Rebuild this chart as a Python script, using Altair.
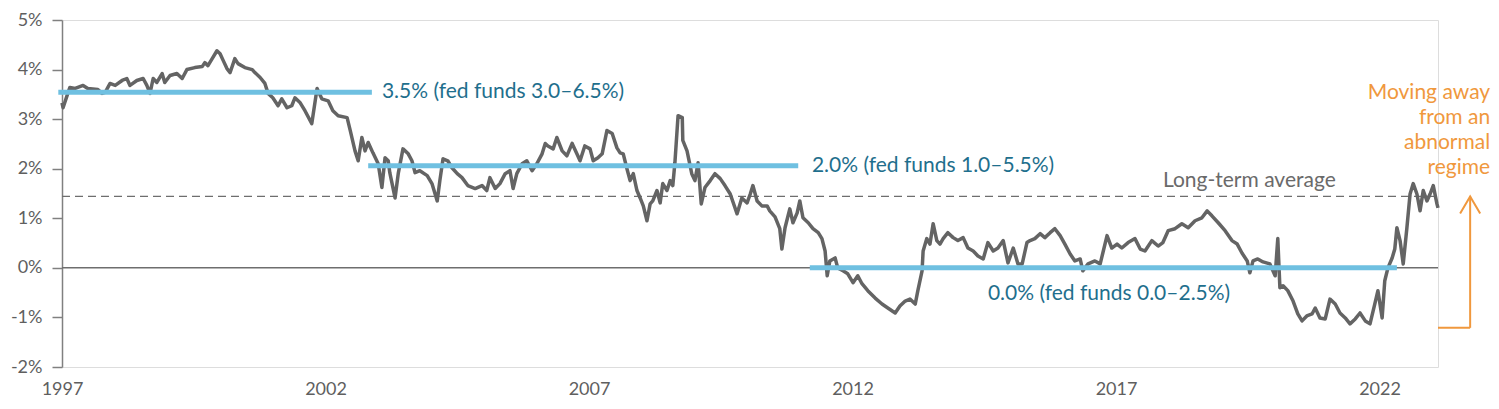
import altair as alt
import pandas as pd

# ---- 10-year real yield series (decimal year, %) ----
year = [
    1997.00, 1997.02, 1997.11, 1997.15, 1997.25, 1997.40, 1997.49, 1997.68, 1997.76, 1997.82,
    1997.91, 1998.01, 1998.14, 1998.23, 1998.29, 1998.42, 1998.54, 1998.61, 1998.67, 1998.73,
    1998.80, 1998.90, 1998.95, 1999.05, 1999.18, 1999.28, 1999.37, 1999.52, 1999.66, 1999.71,
    1999.77, 1999.85, 1999.94, 2000.00, 2000.06, 2000.13, 2000.19, 2000.28, 2000.34, 2000.47,
    2000.61, 2000.66, 2000.76, 2000.85, 2000.91, 2001.00, 2001.10, 2001.17, 2001.27, 2001.36,
    2001.42, 2001.52, 2001.61, 2001.74, 2001.84, 2001.93, 2002.05, 2002.14, 2002.24, 2002.41,
    2002.47, 2002.56, 2002.62, 2002.69, 2002.75, 2002.81, 2002.90, 2003.00, 2003.07, 2003.13,
    2003.19, 2003.22, 2003.32, 2003.38, 2003.47, 2003.57, 2003.64, 2003.70, 2003.79, 2003.93,
    2004.02, 2004.12, 2004.17, 2004.23, 2004.32, 2004.40, 2004.50, 2004.59, 2004.70, 2004.84,
    2004.97, 2005.06, 2005.12, 2005.22, 2005.31, 2005.41, 2005.50, 2005.56, 2005.63, 2005.73,
    2005.82, 2005.92, 2006.01, 2006.11, 2006.17, 2006.22, 2006.32, 2006.39, 2006.49, 2006.58,
    2006.68, 2006.77, 2006.83, 2006.92, 2007.02, 2007.08, 2007.17, 2007.25, 2007.34, 2007.44,
    2007.53, 2007.59, 2007.65, 2007.72, 2007.78, 2007.84, 2007.91, 2007.97, 2008.03, 2008.10,
    2008.16, 2008.21, 2008.29, 2008.35, 2008.40, 2008.48, 2008.54, 2008.59, 2008.63, 2008.69,
    2008.77, 2008.78, 2008.86, 2008.95, 2009.01, 2009.07, 2009.13, 2009.20, 2009.30, 2009.39,
    2009.49, 2009.58, 2009.68, 2009.81, 2009.90, 2010.00, 2010.06, 2010.11, 2010.19, 2010.28,
    2010.38, 2010.43, 2010.53, 2010.62, 2010.66, 2010.72, 2010.81, 2010.87, 2010.95, 2011.00,
    2011.06, 2011.16, 2011.25, 2011.35, 2011.42, 2011.48, 2011.52, 2011.57, 2011.67, 2011.72,
    2011.82, 2011.91, 2012.01, 2012.10, 2012.18, 2012.29, 2012.43, 2012.56, 2012.67, 2012.81,
    2012.90, 2013.00, 2013.09, 2013.19, 2013.24, 2013.32, 2013.34, 2013.41, 2013.47, 2013.53,
    2013.60, 2013.66, 2013.72, 2013.81, 2013.91, 2014.00, 2014.10, 2014.19, 2014.29, 2014.38,
    2014.48, 2014.57, 2014.67, 2014.76, 2014.86, 2014.95, 2015.05, 2015.14, 2015.22, 2015.31,
    2015.37, 2015.46, 2015.56, 2015.65, 2015.75, 2015.84, 2015.94, 2016.03, 2016.13, 2016.22,
    2016.32, 2016.37, 2016.47, 2016.60, 2016.70, 2016.75, 2016.83, 2016.92, 2017.02, 2017.11,
    2017.23, 2017.36, 2017.46, 2017.55, 2017.68, 2017.80, 2017.89, 2017.99, 2018.12, 2018.25,
    2018.37, 2018.50, 2018.63, 2018.73, 2018.82, 2018.94, 2019.07, 2019.20, 2019.30, 2019.39,
    2019.49, 2019.54, 2019.60, 2019.69, 2019.79, 2019.92, 2020.02, 2020.07, 2020.11, 2020.17,
    2020.26, 2020.36, 2020.45, 2020.53, 2020.62, 2020.72, 2020.78, 2020.87, 2020.97, 2021.06,
    2021.16, 2021.25, 2021.35, 2021.44, 2021.54, 2021.63, 2021.73, 2021.82, 2021.91, 2021.97,
    2022.05, 2022.10, 2022.16, 2022.24, 2022.29, 2022.33, 2022.39, 2022.45, 2022.52, 2022.58,
    2022.64, 2022.71, 2022.77, 2022.83, 2022.90, 2022.96, 2023.02, 2023.09, 2023.11,
]
real_yield = [
    3.33, 3.23, 3.52, 3.64, 3.62, 3.68, 3.62, 3.60, 3.52, 3.54,
    3.72, 3.68, 3.78, 3.82, 3.68, 3.78, 3.82, 3.68, 3.52, 3.82,
    3.74, 3.92, 3.74, 3.88, 3.92, 3.82, 4.00, 4.04, 4.06, 4.14,
    4.08, 4.22, 4.38, 4.32, 4.18, 4.02, 3.94, 4.22, 4.12, 4.04,
    4.00, 3.94, 3.84, 3.72, 3.52, 3.43, 3.27, 3.41, 3.23, 3.27,
    3.43, 3.33, 3.17, 2.91, 3.62, 3.41, 3.37, 3.17, 3.07, 3.03,
    2.77, 2.36, 2.16, 2.63, 2.36, 2.53, 2.32, 2.10, 1.62, 2.22,
    2.16, 1.92, 1.41, 1.90, 2.40, 2.30, 2.16, 1.92, 1.96, 1.86,
    1.70, 1.35, 1.76, 2.20, 2.16, 2.02, 1.90, 1.82, 1.66, 1.60,
    1.66, 1.56, 1.82, 1.60, 1.70, 1.90, 1.96, 1.60, 1.90, 2.10,
    2.16, 1.96, 2.10, 2.30, 2.51, 2.46, 2.40, 2.63, 2.36, 2.26,
    2.51, 2.30, 2.16, 2.46, 2.40, 2.16, 2.22, 2.30, 2.77, 2.71,
    2.42, 2.32, 2.30, 2.00, 1.76, 1.90, 1.56, 1.41, 1.25, 0.95,
    1.29, 1.35, 1.56, 1.31, 1.70, 1.56, 1.76, 1.66, 2.12, 3.07,
    3.03, 2.57, 2.36, 1.90, 1.76, 2.12, 1.29, 1.62, 1.76, 1.90,
    1.80, 1.66, 1.49, 1.09, 1.41, 1.31, 1.49, 1.66, 1.35, 1.25,
    1.25, 1.15, 1.03, 0.79, 0.38, 0.81, 1.19, 0.91, 1.11, 1.35,
    1.01, 0.91, 0.79, 0.71, 0.59, 0.34, -0.16, 0.14, 0.20, 0.00,
    -0.06, -0.12, -0.30, -0.16, -0.32, -0.46, -0.61, -0.73, -0.81, -0.91,
    -0.77, -0.67, -0.63, -0.73, -0.46, -0.06, 0.34, 0.59, 0.48, 0.89,
    0.55, 0.48, 0.59, 0.71, 0.61, 0.55, 0.61, 0.40, 0.34, 0.24,
    0.18, 0.51, 0.34, 0.40, 0.55, 0.10, 0.40, 0.08, 0.08, 0.51,
    0.55, 0.59, 0.69, 0.61, 0.71, 0.79, 0.65, 0.48, 0.28, 0.14,
    0.18, -0.06, 0.08, 0.14, 0.08, 0.30, 0.65, 0.40, 0.48, 0.40,
    0.51, 0.59, 0.38, 0.34, 0.55, 0.44, 0.51, 0.75, 0.79, 0.89,
    0.81, 0.95, 1.01, 1.15, 1.05, 0.91, 0.75, 0.55, 0.48, 0.30,
    0.14, -0.10, 0.14, 0.18, 0.12, 0.08, -0.16, 0.59, -0.40, -0.36,
    -0.46, -0.67, -0.93, -1.07, -0.97, -0.93, -0.81, -1.01, -1.03, -0.63,
    -0.73, -0.91, -1.01, -1.13, -1.03, -0.91, -1.07, -1.13, -0.73, -0.46,
    -1.01, -0.26, 0.00, 0.20, 0.38, 0.81, 0.55, 0.08, 0.81, 1.49,
    1.70, 1.49, 1.15, 1.56, 1.35, 1.49, 1.66, 1.29, 1.21,
]

# ---- regime averages ----
regime_start = [1996.93, 2002.81, 2011.19]
regime_end = [2002.88, 2010.97, 2022.33]
regime_level = [3.54, 2.06, 0.0]
regime_label = ["3.5% (fed funds 3.0–6.5%)", "2.0% (fed funds 1.0–5.5%)", "0.0% (fed funds 0.0–2.5%)"]
regime_label_x = [2003.07, 2011.23, 2014.57]
regime_label_y = [3.54, 2.06, -0.52]

# ---- long-term average ----
long_term_avg = 1.44
avg_label = ["Long-term average"]
avg_label_x = [2021.17]
avg_label_y = [1.75]

# ---- axes ----
x_start, x_end = 1997.0, 2023.11
x_ticks = [1997, 2002, 2007, 2012, 2017, 2022]
y_ticks = [-2, -1, 0, 1, 2, 3, 4, 5]

# ---- right-hand note ----
note_text = ["Moving away\nfrom an\nabnormal\nregime"]
note_x = [2024.10]
note_y = [3.74]
arrow_x = 2023.72
arrow_bottom = -1.21
arrow_top = 1.44

FONT = "Lato"
GREY_TXT = "#5f5f5f"
LINE = "#646464"
BLUE = "#6fc0e1"
TEAL = "#1f6f8d"
ORANGE = "#f0983d"
ANN_SIZE = 21

xs = alt.Scale(domain=[x_start, x_end], nice=False, zero=False)
ys = alt.Scale(domain=[-2, 5], nice=False, zero=False)

xaxis = alt.Axis(values=x_ticks, format="d", title=None, domain=False, ticks=False, grid=False,
                 labelPadding=13, labelFontSize=18, labelColor=GREY_TXT, labelFont=FONT,
                 labelFlush=False)
yaxis = alt.Axis(values=y_ticks, labelExpr="datum.value + '%'", title=None, grid=False,
                 domain=True, domainColor="#808080", domainWidth=1.5,
                 ticks=True, tickSize=10, tickColor="#808080", tickWidth=1.5,
                 labelPadding=10, labelFontSize=18, labelColor=GREY_TXT, labelFont=FONT)

def X(field):
    return alt.X(field, type="quantitative", scale=xs, axis=xaxis)

def Y(field):
    return alt.Y(field, type="quantitative", scale=ys, axis=yaxis)

series = pd.DataFrame({"year": year, "value": real_yield})
regimes = pd.DataFrame({"start": regime_start, "end": regime_end, "level": regime_level,
                        "label": regime_label, "lx": regime_label_x, "ly": regime_label_y})
refs = pd.DataFrame({"start": [x_start], "end": [x_end], "avg": [long_term_avg], "zero": [0.0]})
avg_df = pd.DataFrame({"label": avg_label, "x": avg_label_x, "y": avg_label_y})
note_df = pd.DataFrame({"label": note_text, "x": note_x, "y": note_y})
arrow_df = pd.DataFrame({"x": [arrow_x], "xf": [x_end], "y0": [arrow_bottom], "y1": [arrow_top]})

zero_line = alt.Chart(refs).mark_rule(color="#6e6e6e", strokeWidth=1.5).encode(
    x=X("start"), x2="end", y=Y("zero"))
avg_line = alt.Chart(refs).mark_rule(color="#6e6e6e", strokeWidth=1.3, strokeDash=[8, 5]).encode(
    x=X("start"), x2="end", y=Y("avg"))
line = alt.Chart(series).mark_line(color=LINE, strokeWidth=3.5, strokeJoin="round").encode(
    x=X("year"), y=Y("value"))
regime_rules = alt.Chart(regimes).mark_rule(color=BLUE, strokeWidth=5).encode(
    x=X("start"), x2="end", y=Y("level"))
regime_text = alt.Chart(regimes).mark_text(align="left", baseline="middle", font=FONT,
                                           fontSize=ANN_SIZE, color=TEAL).encode(
    x=X("lx"), y=Y("ly"), text="label:N")
avg_text = alt.Chart(avg_df).mark_text(align="right", baseline="middle", font=FONT,
                                       fontSize=ANN_SIZE, color="#6a6a6a").encode(
    x=X("x"), y=Y("y"), text="label:N")
note = alt.Chart(note_df).mark_text(align="right", baseline="top", font=FONT, fontSize=ANN_SIZE,
                                    color=ORANGE, lineBreak="\n", lineHeight=25).encode(
    x=X("x"), y=Y("y"), text="label:N")
arrow_shaft = alt.Chart(arrow_df).mark_rule(color=ORANGE, strokeWidth=2).encode(
    x=X("x"), y=Y("y0"), y2="y1")
arrow_foot = alt.Chart(arrow_df).mark_rule(color=ORANGE, strokeWidth=2).encode(
    x=X("xf"), x2="x", y=Y("y0"))
arrow_head = alt.Chart(arrow_df).mark_point(shape="M-0.59,1L0,0L0.59,1", filled=False,
                                            size=1156, color=ORANGE, strokeWidth=2,
                                            opacity=1).encode(
    x=X("x"), y=Y("y1"))

chart = alt.layer(
    zero_line, avg_line, line, regime_rules, regime_text, avg_text,
    note, arrow_shaft, arrow_foot, arrow_head,
).properties(
    width=1376, height=347,
    padding={"left": 54, "top": 12, "right": 53, "bottom": 34},
    autosize=alt.AutoSizeParams(type="none"),
).configure_view(stroke=None).configure(background="white")

chart.save("out.html", embed_options={"renderer": "svg", "actions": False})
